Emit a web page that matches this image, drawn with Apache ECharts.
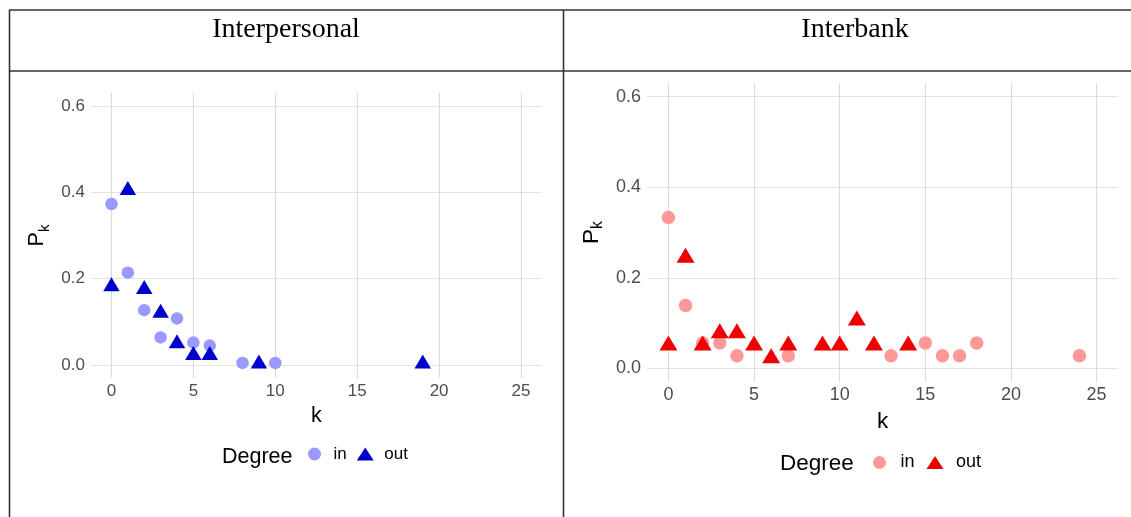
<!DOCTYPE html>
<html>
<head>
<meta charset="utf-8">
<script src="https://cdn.jsdelivr.net/npm/echarts@6/dist/echarts.min.js"></script>
<style>html,body{margin:0;padding:0;background:#fff;}#c{width:1131px;height:517px;}</style>
</head>
<body>
<div id="c"></div>
<script>
// ---- data ----
const panelTitles = ['Interpersonal', 'Interbank'];
const xTicks = [0, 5, 10, 15, 20, 25];
const yTicks = [0, 0.2, 0.4, 0.6];
// Interpersonal
const interpersonalInK = [0, 1, 2, 3, 4, 5, 6, 8, 10];
const interpersonalInP = [0.373, 0.214, 0.127, 0.064, 0.108, 0.052, 0.045, 0.005, 0.005];
const interpersonalOutK = [0, 1, 2, 3, 4, 5, 6, 9, 19];
const interpersonalOutP = [0.187, 0.410, 0.181, 0.126, 0.055, 0.028, 0.028, 0.008, 0.008];
// Interbank
const interbankInK = [0, 1, 2, 3, 4, 7, 13, 15, 16, 17, 18, 24];
const interbankInP = [0.333, 0.139, 0.056, 0.056, 0.028, 0.028, 0.028, 0.056, 0.028, 0.028, 0.056, 0.028];
const interbankOutK = [0, 1, 2, 3, 4, 5, 6, 7, 9, 10, 11, 12, 14];
const interbankOutP = [0.056, 0.250, 0.056, 0.083, 0.083, 0.056, 0.028, 0.056, 0.056, 0.056, 0.111, 0.056, 0.056];

const zip = (a, b) => a.map((v, i) => [v, b[i]]);
const FONT = '"Liberation Sans", Arial, sans-serif';
const SERIF = '"Liberation Serif", "Times New Roman", serif';
const TRI = 'path://M8.5,0L17,13L0,13Z';

function xAxisCfg(gi, fs, margin, gap, tfs) {
  return {
    type: 'value', gridIndex: gi, min: -1.25, max: 26.25,
    name: 'k', nameLocation: 'middle', nameGap: gap,
    nameTextStyle: { color: '#000', fontSize: tfs, fontFamily: FONT, verticalAlign: 'top' },
    axisLine: { show: false },
    axisTick: { show: false, customValues: xTicks },
    axisLabel: { customValues: xTicks, color: '#4D4D4D', fontSize: fs, fontFamily: FONT, margin: margin },
    splitLine: { show: true, lineStyle: { color: '#DADADA', width: 1 } }
  };
}
function yAxisCfg(gi, fs, gap, tfs) {
  return {
    type: 'value', gridIndex: gi, min: -0.03, max: 0.63,
    name: '{p|P}{s|k}', nameLocation: 'middle', nameGap: gap,
    nameTextStyle: {
      fontFamily: FONT,
      rich: {
        p: { fontSize: tfs, color: '#000', fontFamily: FONT, lineHeight: 26, verticalAlign: 'top' },
        s: { fontSize: tfs * 0.7, color: '#000', fontFamily: FONT, lineHeight: 15, verticalAlign: 'bottom' }
      }
    },
    axisLine: { show: false },
    axisTick: { show: false, customValues: yTicks },
    axisLabel: { customValues: yTicks, color: '#4D4D4D', fontSize: fs, fontFamily: FONT, margin: 6,
      formatter: v => v.toFixed(1) },
    splitLine: { show: true, lineStyle: { color: '#E3E3E3', width: 1 } }
  };
}

const option = {
  animation: false,
  backgroundColor: '#fff',
  grid: [
    { left: 91, right: 1131 - 541.5, top: 93, bottom: 517 - 378 },
    { left: 647, right: 1131 - 1118, top: 83, bottom: 517 - 382 }
  ],
  xAxis: [ xAxisCfg(0, 17, 5, 24, 21.5), xAxisCfg(1, 18, 4, 28, 22.5) ],
  yAxis: [ yAxisCfg(0, 17, 39, 21.5), yAxisCfg(1, 18, 41, 22.5) ],
  legend: [
    {
      left: 308, top: 445.5, padding: 0, itemWidth: 22, itemHeight: 13, itemGap: 10,
      textStyle: { fontSize: 17, fontFamily: FONT, color: '#000', padding: [0, 0, 0, 3] },
      selectedMode: false,
      formatter: n => n.split('_')[0],
      data: [ { name: 'in_1', icon: 'circle' }, { name: 'out_1', icon: TRI } ]
    },
    {
      left: 873, top: 453.5, padding: 0, itemWidth: 22, itemHeight: 13, itemGap: 12,
      textStyle: { fontSize: 18, fontFamily: FONT, color: '#000', padding: [0, 0, 0, 5] },
      selectedMode: false,
      formatter: n => n.split('_')[0],
      data: [ { name: 'in_2', icon: 'circle' }, { name: 'out_2', icon: TRI } ]
    }
  ],
  series: [
    { name: 'in_1', type: 'scatter', xAxisIndex: 0, yAxisIndex: 0, symbol: 'circle', symbolSize: 12.5,
      itemStyle: { color: '#9999FF', opacity: 1 }, data: zip(interpersonalInK, interpersonalInP), z: 2 },
    { name: 'out_1', type: 'scatter', xAxisIndex: 0, yAxisIndex: 0, symbol: 'triangle', symbolSize: [16.5, 14],
      itemStyle: { color: '#0000CD', opacity: 1 }, data: zip(interpersonalOutK, interpersonalOutP), z: 3 },
    { name: 'in_2', type: 'scatter', xAxisIndex: 1, yAxisIndex: 1, symbol: 'circle', symbolSize: 13.5,
      itemStyle: { color: '#FF9999', opacity: 1 }, data: zip(interbankInK, interbankInP), z: 2 },
    { name: 'out_2', type: 'scatter', xAxisIndex: 1, yAxisIndex: 1, symbol: 'triangle', symbolSize: [18, 15],
      itemStyle: { color: '#EE0000', opacity: 1 }, data: zip(interbankOutK, interbankOutP), z: 3 }
  ],
  graphic: [
    { type: 'line', shape: { x1: 9, y1: 10, x2: 1131, y2: 10 }, style: { stroke: '#333', lineWidth: 1.6 }, z: 10 },
    { type: 'line', shape: { x1: 9, y1: 71, x2: 1131, y2: 71 }, style: { stroke: '#333', lineWidth: 1.6 }, z: 10 },
    { type: 'line', shape: { x1: 9.5, y1: 10, x2: 9.5, y2: 517 }, style: { stroke: '#333', lineWidth: 1.6 }, z: 10 },
    { type: 'line', shape: { x1: 563.5, y1: 10, x2: 563.5, y2: 517 }, style: { stroke: '#333', lineWidth: 1.6 }, z: 10 },
    { type: 'text', x: 286, y: 16, style: { text: panelTitles[0], fontFamily: SERIF, fontSize: 28, fill: '#000', textAlign: 'center' } },
    { type: 'text', x: 855, y: 16, style: { text: panelTitles[1], fontFamily: SERIF, fontSize: 28, fill: '#000', textAlign: 'center' } },
    { type: 'text', x: 222, y: 457, style: { text: 'Degree', fontFamily: FONT, fontSize: 21.5, fill: '#000', verticalAlign: 'middle' } },
    { type: 'text', x: 780, y: 464, style: { text: 'Degree', fontFamily: FONT, fontSize: 22.5, fill: '#000', verticalAlign: 'middle' } }
  ]
};
const chart = echarts.init(document.getElementById('c'), null, { renderer: 'canvas' });
chart.setOption(option);
</script>
</body>
</html>
